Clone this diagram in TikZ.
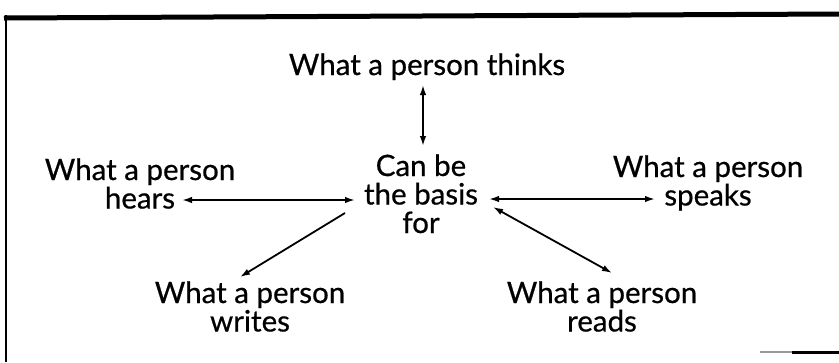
\documentclass[tikz,border=0pt]{standalone}
\usepackage{fontspec}
\setmainfont[FakeBold=0.6]{Lato}
\usetikzlibrary{arrows.meta}
\begin{document}
\begin{tikzpicture}[x=1bp,y=-1bp,
  label/.style={inner sep=0pt, align=center, anchor=base,
    font=\fontsize{29.5bp}{28.5bp}\selectfont},
  link/.style={line width=1.8bp, -{Latex[length=10bp,width=6.5bp]}},
  both/.style={line width=1.8bp, {Latex[length=10bp,width=6.5bp]}-{Latex[length=10bp,width=6.5bp]}},
  rule/.style={line cap=butt}]
\useasboundingbox (0,0) rectangle (839,362);

% frame pieces
\draw[rule, line width=5bp] (4,18) -- (839,14);
\draw[rule, line width=2.5bp] (6,15) -- (6,362);
\draw[rule, line width=1.5bp, black!40] (760,352) -- (792,352);
\draw[rule, line width=3bp] (792,352) -- (839,352);

% labels (anchored on the baseline of their last line)
\node[label] (thinks) at (427,75) {What a person thinks};
\node[label] (basis)  at (421,233) {Can be\\the basis\\for};
\node[label] (hears)  at (140,208.5) {What a person\\hears};
\node[label] (speaks) at (708,205.5) {What a person\\speaks};
\node[label] (writes) at (250,331.5) {What a person\\writes};
\node[label] (reads)  at (602,331.5) {What a person\\reads};

% arrow ends beside the labels
\coordinate (thinksS) at (423,85);
\coordinate (basisN)  at (423,146);
\coordinate (hearsE)  at (182,200);
\coordinate (basisW)  at (355,200);
\coordinate (basisE)  at (489,199);
\coordinate (speaksW) at (655,199);
\coordinate (basisSW) at (345,213);
\coordinate (writesN) at (240,277);
\coordinate (basisSE) at (493,207);
\coordinate (readsN)  at (612,273);

% connectors
\draw[both] (thinksS) -- (basisN);
\draw[both] (hearsE) -- (basisW);
\draw[both] (basisE) -- (speaksW);
\draw[link] (basisSW) -- (writesN);
\draw[both] (basisSE) -- (readsN);
\end{tikzpicture}
\end{document}
